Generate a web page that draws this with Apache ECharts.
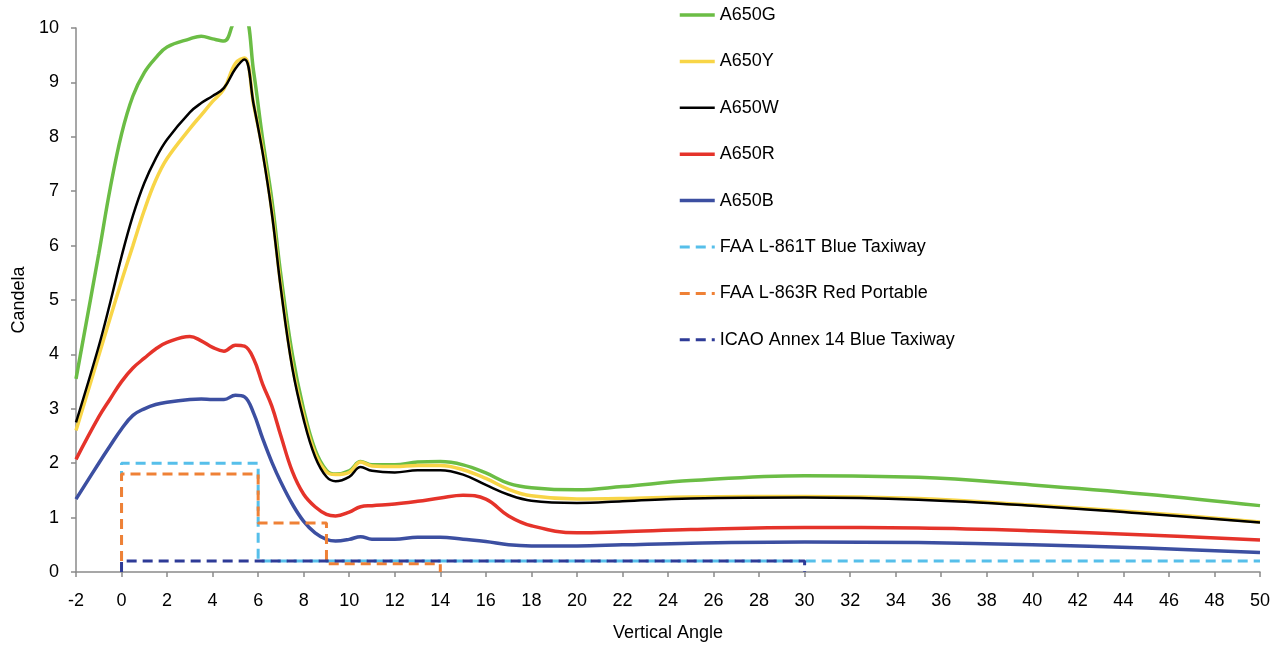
<!DOCTYPE html>
<html>
<head>
<meta charset="utf-8">
<title>Candela vs Vertical Angle</title>
<script src="https://cdn.jsdelivr.net/npm/echarts@6/dist/echarts.min.js"></script>
<style>
  html, body { margin: 0; padding: 0; background: #fff; }
  #myChart { width: 1282px; height: 647px; }
</style>
</head>
<body>
<div id="myChart"></div>
<script>
// vertical angles the curves were read at
var angles = [-2, -1, -0.5, 0, 0.5, 1, 1.5, 2, 3, 3.5, 4, 4.5, 5, 5.4, 5.8, 6.2, 6.6, 7, 7.5, 8, 8.5,
  9, 9.4, 10, 10.5, 11, 12, 13, 14, 15, 16, 17, 18, 20, 22, 25, 30, 35, 40, 45, 50];

var a650g = [3.55, 5.85, 7.05, 8.05, 8.75, 9.18, 9.45, 9.65, 9.8, 9.85, 9.8, 9.76, 10.15, 10.2, 9.2, 7.95, 6.85, 5.45, 4.0, 2.98, 2.25,
  1.87, 1.8, 1.86, 2.03, 1.97, 1.97, 2.02, 2.03, 1.97, 1.82, 1.63, 1.55, 1.51, 1.57, 1.68, 1.77, 1.74, 1.6, 1.43, 1.22];
var a650y = [2.6, 3.98, 4.67, 5.35, 6.0, 6.65, 7.2, 7.6, 8.15, 8.4, 8.65, 8.88, 9.35, 9.45, 8.6, 7.75, 6.65, 5.25, 3.8, 2.87, 2.18,
  1.84, 1.79, 1.83, 2.02, 1.95, 1.94, 1.96, 1.96, 1.88, 1.72, 1.52, 1.4, 1.34, 1.35, 1.38, 1.39, 1.35, 1.23, 1.09, 0.92];
var a650w = [2.75, 4.15, 4.95, 5.8, 6.55, 7.15, 7.6, 7.95, 8.45, 8.62, 8.75, 8.9, 9.25, 9.42, 8.6, 7.7, 6.6, 5.2, 3.75, 2.8, 2.12,
  1.75, 1.67, 1.75, 1.93, 1.86, 1.83, 1.87, 1.87, 1.79, 1.6, 1.42, 1.31, 1.27, 1.3, 1.35, 1.37, 1.33, 1.22, 1.07, 0.91];
var a650r = [2.07, 2.85, 3.18, 3.5, 3.75, 3.93, 4.1, 4.22, 4.33, 4.25, 4.13, 4.06, 4.17, 4.15, 3.92, 3.45, 3.05, 2.5, 1.85, 1.43, 1.2,
  1.06, 1.03, 1.1, 1.2, 1.22, 1.25, 1.3, 1.36, 1.41, 1.34, 1.03, 0.85, 0.72, 0.74, 0.78, 0.82, 0.81, 0.76, 0.68, 0.59];
var a650b = [1.34, 2.0, 2.32, 2.63, 2.88, 3.0, 3.08, 3.12, 3.17, 3.18, 3.17, 3.17, 3.25, 3.22, 2.92, 2.45, 2.02, 1.65, 1.25, 0.93, 0.72,
  0.6, 0.57, 0.6, 0.65, 0.6, 0.6, 0.64, 0.64, 0.6, 0.56, 0.5, 0.48, 0.48, 0.5, 0.53, 0.55, 0.54, 0.5, 0.44, 0.36];

// requirement step lines
var l861tX = [0, 0, 6, 6, 50];
var l861tY = [0.2, 2, 2, 0.2, 0.2];
var l863rX = [0, 0, 6, 6, 9, 9, 14, 14];
var l863rY = [0.2, 1.8, 1.8, 0.9, 0.9, 0.15, 0.15, 0];
var icaoX = [0, 0, 30, 30];
var icaoY = [0, 0.2, 0.2, 0];

var names = ['A650G', 'A650Y', 'A650W', 'A650R', 'A650B',
  'FAA L-861T Blue Taxiway', 'FAA L-863R Red Portable', 'ICAO Annex 14 Blue Taxiway'];

function pairs(xs, ys) {
  return xs.map(function (x, i) { return [x, ys[i]]; });
}

var font = "'Liberation Sans', Arial, Helvetica, sans-serif";

function curve(name, ys, color, width) {
  return {
    name: name, type: 'line', data: pairs(angles, ys),
    smooth: 0.4, symbol: 'none', clip: true,
    lineStyle: { color: color, width: width }, itemStyle: { color: color }
  };
}
function step(name, xs, ys, color) {
  return {
    name: name, type: 'line', data: pairs(xs, ys),
    symbol: 'none', clip: true,
    lineStyle: { color: color, width: 3, type: [10, 6] }, itemStyle: { color: color }
  };
}

var myChart = echarts.init(document.getElementById('myChart'));
myChart.setOption({
  animation: false,
  backgroundColor: '#fff',
  textStyle: { fontFamily: font },
  grid: { left: 76, right: 22, top: 28, bottom: 74 },
  legend: {
    data: names,
    orient: 'vertical',
    left: 673, top: 1,
    itemWidth: 35, itemHeight: 16, itemGap: 28.4,
    itemStyle: { opacity: 0 },
    lineStyle: { width: 'inherit' },
    textStyle: { fontFamily: font, fontSize: 18, color: '#000', lineHeight: 16 }
  },
  xAxis: {
    type: 'value', min: -2, max: 50, interval: 2,
    name: 'Vertical Angle', nameLocation: 'middle', nameGap: 52,
    nameTextStyle: { fontFamily: font, fontSize: 18, color: '#000' },
    axisLine: { onZero: false, lineStyle: { color: '#8a8a8a', width: 1.5 } },
    axisTick: { show: true, length: 5, lineStyle: { color: '#8a8a8a', width: 1.5 } },
    axisLabel: { fontFamily: font, fontSize: 18, color: '#000', margin: 20 },
    splitLine: { show: false }
  },
  yAxis: {
    type: 'value', min: 0, max: 10, interval: 1,
    name: 'Candela', nameLocation: 'middle', nameGap: 48,
    nameTextStyle: { fontFamily: font, fontSize: 18, color: '#000' },
    axisLine: { show: true, onZero: false, lineStyle: { color: '#8a8a8a', width: 1.5 } },
    axisTick: { show: true, length: 5, lineStyle: { color: '#8a8a8a', width: 1.5 } },
    axisLabel: { fontFamily: font, fontSize: 18, color: '#000', margin: 17 },
    splitLine: { show: false }
  },
  series: [
    curve(names[0], a650g, '#6bbd45', 3.5),
    curve(names[1], a650y, '#f8d547', 3.5),
    curve(names[2], a650w, '#000000', 2.5),
    curve(names[3], a650r, '#e5332a', 3.5),
    curve(names[4], a650b, '#3c4fa1', 3.5),
    step(names[5], l861tX, l861tY, '#56bfea'),
    step(names[6], l863rX, l863rY, '#ef8136'),
    step(names[7], icaoX, icaoY, '#2e3b97')
  ]
});
</script>
</body>
</html>
